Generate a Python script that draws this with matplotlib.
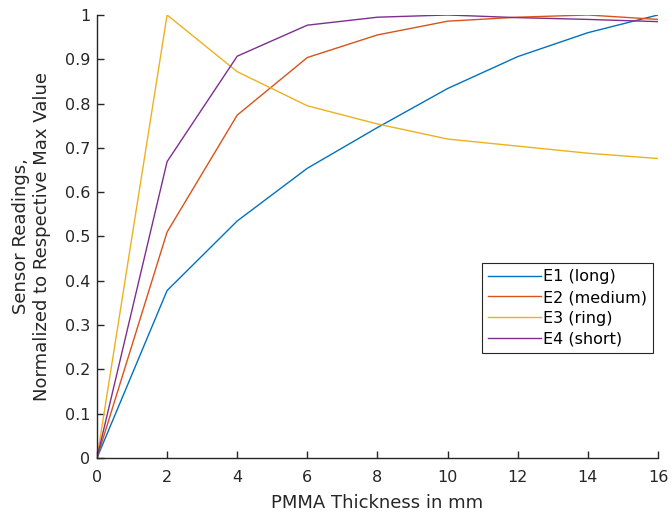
import matplotlib
matplotlib.use("Agg")
import matplotlib.pyplot as plt

thickness_mm = [0, 2, 4, 6, 8, 10, 12, 14, 16]
e1_long = [0, 0.378, 0.535, 0.654, 0.746, 0.834, 0.906, 0.960, 1.0]
e2_medium = [0, 0.510, 0.774, 0.904, 0.955, 0.986, 0.995, 1.0, 0.990]
e3_ring = [0, 1.0, 0.872, 0.795, 0.754, 0.720, 0.704, 0.688, 0.676]
e4_short = [0, 0.669, 0.907, 0.977, 0.995, 1.0, 0.994, 0.990, 0.985]

series_labels = ["E1 (long)", "E2 (medium)", "E3 (ring)", "E4 (short)"]
colors = ["#0072BD", "#D95319", "#EDB120", "#7E2F8E"]
x_ticks = list(range(0, 17, 2))
y_ticks = [i / 10 for i in range(11)]
y_tick_labels = ["0"] + [f"{v:g}" for v in y_ticks[1:-1]] + ["1"]

txt = "#262626"
fig = plt.figure(figsize=(6.72, 5.15), dpi=100)
ax = fig.add_axes([0.1443, 0.1107, 0.8348, 0.8602])

for vals, lab, col in zip([e1_long, e2_medium, e3_ring, e4_short], series_labels, colors):
    ax.plot(thickness_mm, vals, color=col, lw=1.0, label=lab)

ax.set_xlim(0, 16)
ax.set_ylim(0, 1)
ax.set_xticks(x_ticks)
ax.set_yticks(y_ticks)
ax.set_yticklabels(y_tick_labels)
ax.spines["top"].set_visible(False)
ax.spines["right"].set_visible(False)
for s in ["left", "bottom"]:
    ax.spines[s].set_color(txt)
    ax.spines[s].set_linewidth(1.0)
ax.tick_params(direction="in", length=5, width=1, colors=txt, labelsize=11.5)
ax.tick_params(axis="x", pad=9)
ax.tick_params(axis="y", pad=5)

ax.set_xlabel("PMMA Thickness in mm", fontsize=13, color=txt, labelpad=6)
ax.set_ylabel("Sensor Readings,\nNormalized to Respective Max Value", fontsize=13, color=txt,
              labelpad=10)

leg = ax.legend(loc="upper right", bbox_to_anchor=(0.991, 0.44), fontsize=11.5,
                fancybox=False, framealpha=1, edgecolor=txt, handlelength=3.3,
                handletextpad=0.1, borderpad=0.4, labelspacing=0.35, borderaxespad=0)
leg.get_frame().set_linewidth(0.8)
for t in leg.get_texts():
    t.set_color("black")

fig.savefig("out.png", dpi=100)
